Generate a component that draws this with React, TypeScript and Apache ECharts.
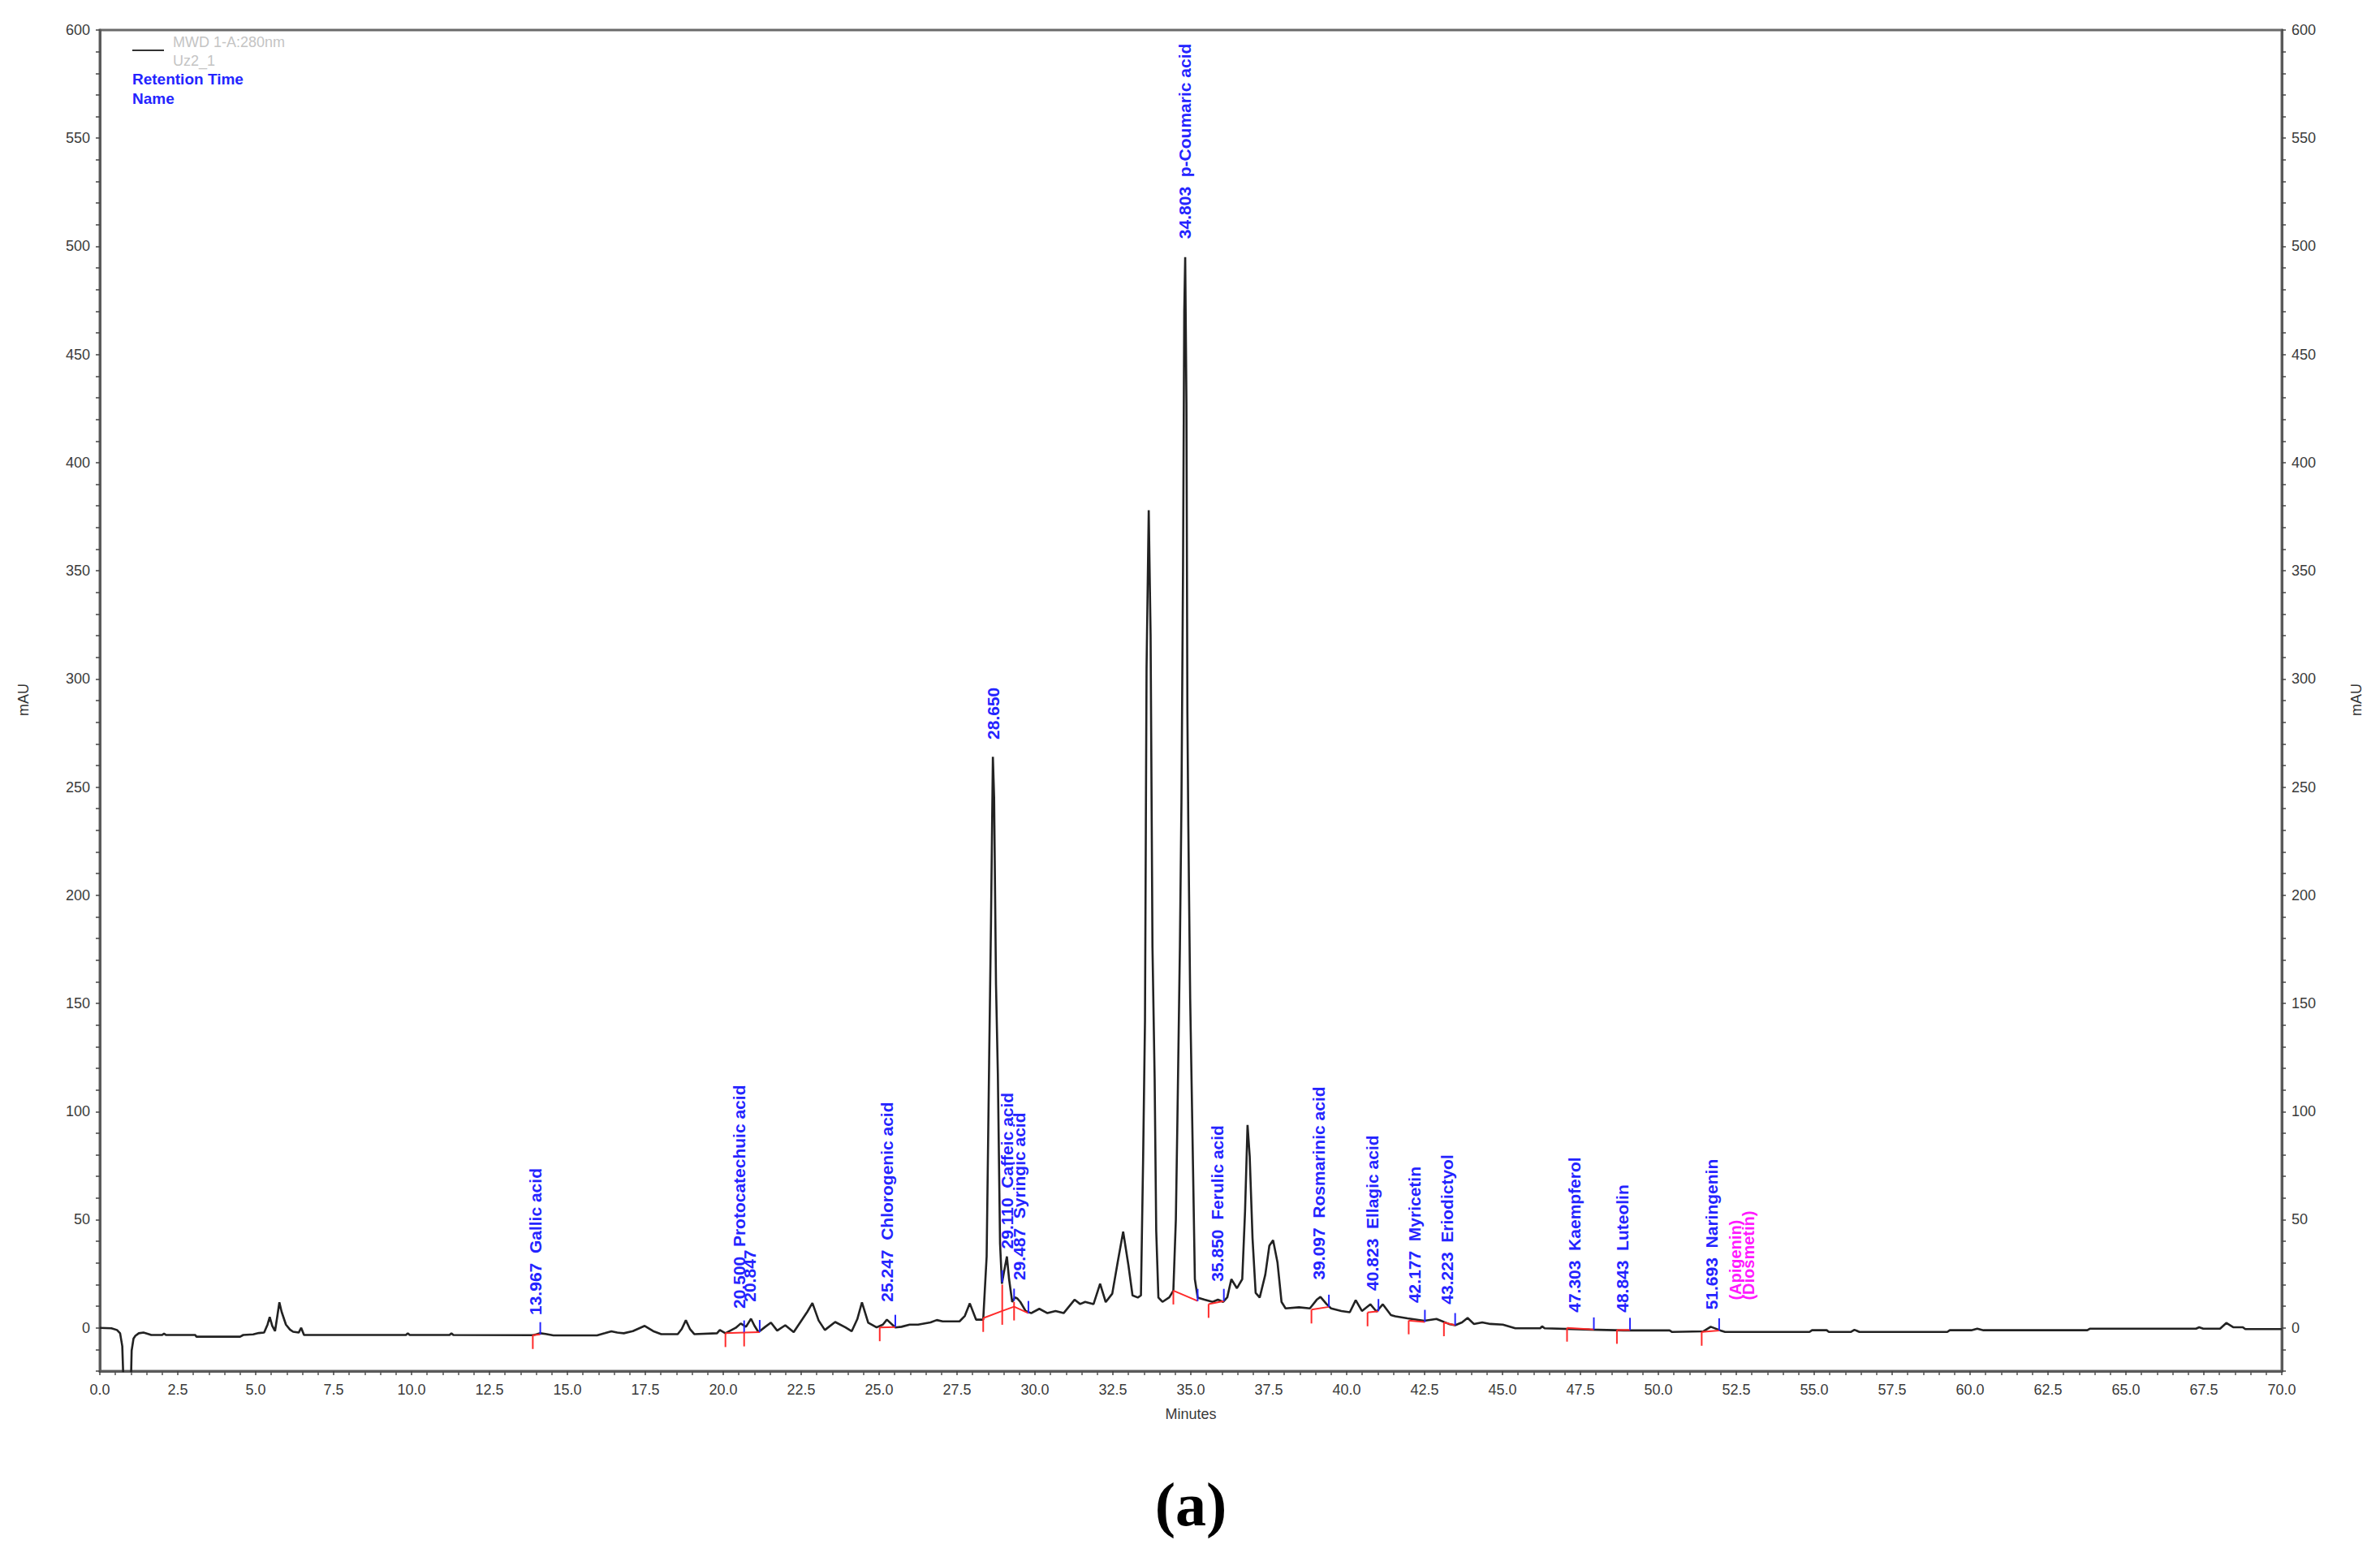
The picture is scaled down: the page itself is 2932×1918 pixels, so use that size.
import React, { useEffect, useRef } from "react";
import * as echarts from "echarts";

// ---- chromatogram trace (time in minutes, signal in mAU) ----
const trace0to14: [number, number][] = [
  [0, 0], [0.37, -0.2], [0.55, -1.0], [0.65, -2.5], [0.72, -8.5], [0.78, -35], [0.86, -48], [0.94, -48],
  [0.99, -30], [1.02, -10.5], [1.08, -5.0], [1.14, -3.7], [1.25, -2.5], [1.4, -2.2], [1.55, -2.8], [1.65, -3.3],
  [2.0, -3.3], [2.06, -2.6], [2.12, -3.3], [3.06, -3.3], [3.1, -4.1], [4.5, -4.1], [4.6, -3.3], [4.92, -3.0],
  [5.1, -2.4], [5.27, -2.2], [5.38, 1.5], [5.45, 5.0], [5.53, 1.0], [5.62, -1.5], [5.7, 6.0], [5.76, 11.8],
  [5.83, 7.5], [5.97, 1.5], [6.1, -0.8], [6.2, -1.8], [6.38, -2.2], [6.46, 0.0], [6.55, -3.3], [9.82, -3.3],
  [9.88, -2.5], [9.94, -3.3], [11.22, -3.3], [11.28, -2.5], [11.34, -3.3], [13.89, -3.4],
];
const trace14to28: [number, number][] = [
  [14.0, -3.0], [14.13, -2.5], [14.3, -2.8], [14.55, -3.5], [15.95, -3.5], [16.2, -2.5], [16.41, -1.6],
  [16.6, -2.2], [16.81, -2.5], [17.1, -1.5], [17.48, 0.9], [17.75, -1.5], [18.01, -2.9], [18.54, -2.9],
  [18.67, -0.5], [18.8, 3.5], [18.93, -0.5], [19.07, -2.9], [19.8, -2.5], [19.89, -1.0], [20.07, -2.5],
  [20.4, 0.0], [20.56, 2.0], [20.73, 0.5], [20.89, 4.2], [21.0, 1.0], [21.13, -2.0], [21.35, 0.5], [21.53, 2.4],
  [21.73, -1.3], [21.99, 1.2], [22.26, -2.0], [22.53, 3.8], [22.7, 7.5], [22.86, 11.5], [23.06, 3.4],
  [23.26, -1.0], [23.59, 2.7], [23.92, 0.2], [24.12, -1.6], [24.3, 4.0], [24.45, 11.8], [24.65, 2.4],
  [24.92, 0.2], [25.12, 1.5], [25.25, 3.8], [25.52, 0.2], [25.72, 0.5], [25.98, 1.5], [26.25, 1.5],
  [26.65, 2.5], [26.85, 3.6], [27.04, 3.0], [27.24, 3.0], [27.58, 3.0], [27.75, 5.5], [27.91, 11.3],
  [28.11, 3.8], [28.34, 3.8],
];
const trace28to40: [number, number][] = [
  [28.45, 33], [28.53, 123], [28.59, 188], [28.65, 264], [28.69, 245], [28.75, 159], [28.81, 117], [28.88, 39],
  [28.94, 20.4], [28.99, 24.6], [29.1, 33], [29.17, 22.5], [29.27, 12], [29.36, 14.1], [29.44, 13.5], [29.53, 12],
  [29.7, 7.8], [29.88, 6.8], [30.14, 8.8], [30.4, 6.8], [30.66, 7.8], [30.92, 6.8], [31.1, 10], [31.27, 13],
  [31.45, 11], [31.61, 12], [31.88, 11], [32.09, 20.4], [32.27, 11.9], [32.48, 15.8], [32.65, 30], [32.83, 44.5],
  [33.0, 28.8], [33.13, 15], [33.3, 14], [33.4, 15], [33.47, 78], [33.53, 142], [33.58, 305], [33.65, 378],
  [33.71, 320], [33.77, 176], [33.84, 115], [33.89, 45], [33.96, 14], [34.09, 12], [34.31, 14.1], [34.44, 17.2],
  [34.52, 50], [34.57, 96], [34.65, 176], [34.7, 243], [34.75, 350], [34.79, 470], [34.82, 495], [34.86, 427],
  [34.89, 285], [34.92, 232], [34.98, 152], [35.07, 75], [35.13, 22.5], [35.22, 14], [35.44, 13], [35.7, 12],
  [35.87, 13], [36.04, 12], [36.17, 14.1], [36.3, 22.5], [36.48, 18.3], [36.65, 22.5], [36.74, 53.9],
  [36.82, 93.8], [36.89, 79.1], [36.98, 41.4], [37.08, 16.2], [37.21, 14], [37.39, 24.6], [37.52, 38],
  [37.64, 40.5], [37.78, 30.3], [37.91, 12], [38.04, 9], [38.47, 9.5], [38.82, 9], [39.04, 13], [39.16, 14.3],
  [39.36, 10.9], [39.5, 9], [39.83, 7.8],
];
const trace40to70: [number, number][] = [
  [40.1, 7.2], [40.29, 12.8], [40.49, 7.8], [40.76, 10.9], [40.96, 7.5], [41.16, 10.9], [41.42, 5.9],
  [41.56, 5.3], [41.95, 4.4], [42.49, 3.3], [42.88, 4.1], [43.28, 1.8], [43.48, 1.2], [43.7, 2.5], [43.88, 4.6],
  [44.08, 1.8], [44.35, 2.5], [44.61, 1.8], [45.01, 1.5], [45.41, -0.2], [46.21, -0.2], [46.27, 0.7],
  [46.35, -0.2], [47.8, -0.8], [48.89, -1.2], [50.36, -1.2], [50.44, -1.9], [51.45, -1.6], [51.68, 0.5],
  [51.99, -1.2], [52.14, -1.9], [54.85, -1.9], [54.93, -1.1], [55.4, -1.1], [55.47, -1.9], [56.17, -1.9],
  [56.29, -0.9], [56.45, -1.9], [59.27, -1.9], [59.35, -1.1], [60.04, -1.1], [60.23, -0.4], [60.43, -1.1],
  [63.76, -1.1], [63.84, -0.4], [67.25, -0.4], [67.35, 0.25], [67.48, -0.4], [68.02, -0.4], [68.22, 2.25],
  [68.44, 0.3], [68.75, 0.25], [68.83, -0.6], [70, -0.6],
];

// ---- peak annotations ----
const peakRT = [13.967, 20.5, 20.847, 25.247, 28.65, 29.11, 29.487, 34.803, 35.85, 39.097, 40.823, 42.177, 43.223, 47.303, 48.843, 51.693];
const peakName = ["Gallic acid", "Protocatechuic acid", "", "Chlorogenic acid", "", "Caffeic acid", "Syringic acid", "p-Coumaric acid", "Ferulic acid", "Rosmarinic acid", "Ellagic acid", "Myricetin", "Eriodictyol", "Kaempferol", "Luteolin", "Naringenin"];
const labelBase = [5.9, 8.9, 12, 12, 272, 36.5, 22, 503.5, 21.4, 22.2, 17.2, 11.5, 10.9, 7.1, 7.1, 8.4];

const missingNames = ["(Apigenin)", "(Diosmetin)"];
const missingRT = [52.48, 52.89];
const missingBase = [12.8, 12.8];

// integration events: start (t, mAU), end (t, mAU), red drop top, blue mark level
const startT = [13.89, 20.07, 20.67, 25.02, 28.34, 28.95, 29.33, 34.44, 35.57, 38.87, 40.67, 41.99, 43.12, 47.07, 48.67, 51.39];
const startV = [-3.4, -2.5, -2.2, 0.2, 4.5, 7.8, 9.8, 17.2, 11, 8.4, 7.1, 3.4, 2.5, 0.0, -1.0, -1.9];
const endT = [14.13, 20.67, 21.17, 25.52, 28.95, 29.33, 29.79, 35.22, 36.06, 39.43, 41.02, 42.51, 43.48, 47.93, 49.09, 51.95];
const endV = [-3.0, -2.2, -2.0, 0.4, 7.8, 9.8, 6.8, 12.4, 12.4, 9.7, 7.7, 2.7, 1.2, -0.8, -1.0, -1.2];
const redTopV = [-3.4, -2.5, -2.2, 0.2, 4.5, 20, 12, 17.2, 11, 8.4, 7.1, 3.4, 2.5, 0.0, -1.0, -1.9];
const blueV = [-3.0, -2.2, -2.0, 0.4, 21, 12.5, 6.8, 12.4, 12.4, 9.7, 7.7, 2.7, 1.2, -0.8, -1.0, -1.2];

const yTickLabels = [0, 50, 100, 150, 200, 250, 300, 350, 400, 450, 500, 550, 600];

const SANS = '"Liberation Sans", Arial, sans-serif';
const BLUE = "#2424ff";

export default function App() {
  const ref = useRef<HTMLDivElement>(null);

  useEffect(() => {
    if (!ref.current) return;
    const chart = echarts.init(ref.current, undefined, { renderer: "svg" });
    const trace = [...trace0to14, ...trace14to28, ...trace28to40, ...trace40to70];

    const yAxisBase = (position: "left" | "right") => ({
      type: "value" as const,
      position,
      min: -20,
      max: 600,
      interval: 10,
      axisLine: { show: true, onZero: false, lineStyle: { color: "#5a5a5a", width: 3 } },
      axisTick: { show: true, inside: false, length: 5, lineStyle: { color: "#444", width: 1.5 } },
      axisLabel: {
        margin: 12,
        color: "#3a3a3a",
        fontSize: 18,
        fontFamily: SANS,
        formatter: (v: number) => (yTickLabels.includes(v) ? String(v) : ""),
      },
      splitLine: { show: false },
    });

    const eventData = startT.map((t, i) => [t, startV[i], endT[i], endV[i], redTopV[i], blueV[i]]);
    const labelData = peakRT.map((t, i) => [t, labelBase[i]]);
    const missingData = missingRT.map((t, i) => [t, missingBase[i]]);

    chart.setOption({
      animation: false,
      backgroundColor: "#ffffff",
      grid: {
        left: 123,
        right: 121,
        top: 37,
        bottom: 229,
        show: true,
        borderColor: "#6a6a6a",
        borderWidth: 3,
        backgroundColor: "transparent",
      },
      xAxis: {
        type: "value",
        min: 0,
        max: 70,
        interval: 2.5,
        name: "Minutes",
        nameLocation: "middle",
        nameGap: 44,
        nameTextStyle: { color: "#3a3a3a", fontSize: 18, fontFamily: SANS },
        axisLine: { show: true, onZero: false, lineStyle: { color: "#5a5a5a", width: 3 } },
        axisTick: { show: true, length: 5, lineStyle: { color: "#444", width: 1.5 } },
        minorTick: { show: true, splitNumber: 5, length: 5, lineStyle: { color: "#555", width: 1.5 } },
        axisLabel: {
          margin: 14,
          color: "#3a3a3a",
          fontSize: 18,
          fontFamily: SANS,
          formatter: (v: number) => v.toFixed(1),
        },
        splitLine: { show: false },
        minorSplitLine: { show: false },
      },
      yAxis: [yAxisBase("left"), yAxisBase("right")],
      series: [
        {
          type: "line",
          data: trace,
          showSymbol: false,
          symbol: "none",
          clip: true,
          lineStyle: { color: "#222222", width: 2.6 },
          z: 3,
        },
        {
          type: "custom",
          data: eventData,
          encode: { x: [0, 2], y: [1, 3] },
          z: 4,
          renderItem: (params: any, api: any) => {
            const s = api.coord([api.value(0), api.value(1)]);
            const e = api.coord([api.value(2), api.value(3)]);
            const top = api.coord([api.value(0), api.value(4)]);
            const bm = api.coord([api.value(2), api.value(5)]);
            return {
              type: "group",
              children: [
                { type: "line", shape: { x1: s[0], y1: s[1], x2: e[0], y2: e[1] }, style: { stroke: "#ff2a2a", lineWidth: 2 } },
                { type: "line", shape: { x1: s[0], y1: Math.min(top[1], s[1]), x2: s[0], y2: s[1] + 17 }, style: { stroke: "#ff2a2a", lineWidth: 2 } },
                { type: "line", shape: { x1: e[0], y1: bm[1], x2: e[0], y2: bm[1] - 15 }, style: { stroke: BLUE, lineWidth: 2 } },
              ],
            };
          },
        },
        {
          type: "custom",
          data: labelData,
          encode: { x: 0, y: 1 },
          z: 5,
          renderItem: (params: any, api: any) => {
            const i = params.dataIndex;
            const p = api.coord([api.value(0), api.value(1)]);
            const txt = peakRT[i].toFixed(3) + (peakName[i] ? "  " + peakName[i] : "");
            return {
              type: "text",
              x: p[0],
              y: p[1],
              rotation: Math.PI / 2,
              style: {
                text: txt,
                fill: BLUE,
                font: `bold 21px ${SANS}`,
                align: "left",
                verticalAlign: "middle",
              },
            };
          },
        },
        {
          type: "custom",
          data: missingData,
          encode: { x: 0, y: 1 },
          z: 5,
          renderItem: (params: any, api: any) => {
            const i = params.dataIndex;
            const p = api.coord([api.value(0), api.value(1)]);
            return {
              type: "text",
              x: p[0],
              y: p[1],
              rotation: Math.PI / 2,
              style: {
                text: missingNames[i],
                fill: "#ff1aff",
                font: `bold 20px ${SANS}`,
                align: "left",
                verticalAlign: "middle",
              },
            };
          },
        },
      ],
      graphic: [
        { type: "line", shape: { x1: 163, y1: 62, x2: 202, y2: 62 }, style: { stroke: "#333", lineWidth: 2 } },
        { type: "text", x: 213, y: 52, style: { text: "MWD 1-A:280nm", fill: "#c4c4c4", font: `18px ${SANS}`, verticalAlign: "middle" } },
        { type: "text", x: 213, y: 75, style: { text: "Uz2_1", fill: "#c4c4c4", font: `18px ${SANS}`, verticalAlign: "middle" } },
        { type: "text", x: 163, y: 97, style: { text: "Retention Time", fill: BLUE, font: `bold 19px ${SANS}`, verticalAlign: "middle" } },
        { type: "text", x: 163, y: 121, style: { text: "Name", fill: BLUE, font: `bold 19px ${SANS}`, verticalAlign: "middle" } },
        { type: "text", x: 29, y: 862, rotation: Math.PI / 2, style: { text: "mAU", fill: "#333", font: `18px ${SANS}`, align: "center", verticalAlign: "middle" } },
        { type: "text", x: 2903, y: 862, rotation: Math.PI / 2, style: { text: "mAU", fill: "#333", font: `18px ${SANS}`, align: "center", verticalAlign: "middle" } },
        { type: "text", x: 1467, y: 1853, style: { text: "(a)", fill: "#000", font: `bold 76px "Liberation Serif", "Times New Roman", serif`, align: "center", verticalAlign: "middle" } },
      ],
    });

    return () => chart.dispose();
  }, []);

  return (
    <div
      ref={ref}
      style={{ position: "fixed", left: 0, top: 0, width: 2932, height: 1918, background: "#fff" }}
    />
  );
}
